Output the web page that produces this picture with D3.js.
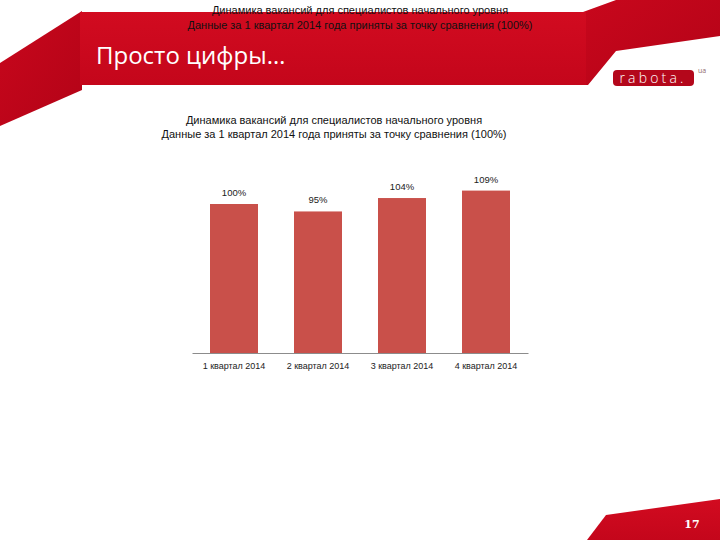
<!DOCTYPE html>
<html>
<head>
<meta charset="utf-8">
<script src="https://cdn.jsdelivr.net/npm/d3@7"></script>
<style>
  html, body { margin: 0; padding: 0; background: #fff; }
  svg { display: block; }
</style>
</head>
<body>
<script>
// ---- data ----
const categories = ["1 квартал 2014", "2 квартал 2014", "3 квартал 2014", "4 квартал 2014"];
const values = [100, 95, 104, 109];
const titleLines = [
  "Динамика вакансий для специалистов начального уровня",
  "Данные за 1 квартал 2014 года приняты за точку сравнения (100%)"
];
const slideTitle = "Просто цифры…";
const pageNumber = "17";

const W = 720, H = 540;
const svg = d3.select("body").append("svg").attr("width", W).attr("height", H);
const defs = svg.append("defs");

const gMain = defs.append("linearGradient").attr("id", "gMain").attr("x1", 0).attr("y1", 0).attr("x2", 0).attr("y2", 1);
gMain.append("stop").attr("offset", "0%").attr("stop-color", "#d20b20");
gMain.append("stop").attr("offset", "100%").attr("stop-color", "#c4061b");
const gRib = defs.append("linearGradient").attr("id", "gRib").attr("x1", 0).attr("y1", 0).attr("x2", 1).attr("y2", 1);
gRib.append("stop").attr("offset", "0%").attr("stop-color", "#c8071c");
gRib.append("stop").attr("offset", "100%").attr("stop-color", "#b30317");

// ---- header decoration ----
const line = d3.line();
const deco = svg.append("g");
deco.append("path").attr("d", line([[0, 63], [82, 11], [82, 90], [0, 126]]) + "Z").attr("fill", "url(#gRib)");
deco.append("path").attr("d", line([[583, 12], [616, 0], [720, 0], [720, 36], [616, 51], [588, 85], [583, 85]]) + "Z").attr("fill", "url(#gRib)");
deco.append("rect").attr("x", 80).attr("y", 12).attr("width", 506).attr("height", 73).attr("fill", "url(#gMain)");

const hdrFont = "'Liberation Sans', Arial, sans-serif";
titleLines.forEach((t, i) => {
  svg.append("text")
    .attr("x", 360).attr("y", 14 + i * 15)
    .attr("text-anchor", "middle")
    .attr("font-family", hdrFont)
    .attr("font-size", 11)
    .attr("fill", "#111")
    .text(t);
});

svg.append("text")
  .attr("x", 96).attr("y", 64)
  .attr("font-family", "'Open Sans', 'DejaVu Sans', sans-serif")
  .attr("font-size", 24)
  .attr("fill", "#fff")
  .text(slideTitle);

// logo
svg.append("rect").attr("x", 613).attr("y", 70).attr("width", 81).attr("height", 16).attr("rx", 4)
  .attr("fill", "#b4071b");
svg.append("text").attr("x", 653).attr("y", 83).attr("text-anchor", "middle")
  .attr("font-family", "'Open Sans', sans-serif").attr("font-weight", 300)
  .attr("font-size", 14).attr("letter-spacing", 3.2).attr("fill", "#fff").text("rabota.");
svg.append("text").attr("x", 698).attr("y", 73)
  .attr("font-family", "'Open Sans', sans-serif").attr("font-size", 7).attr("fill", "#8f6a6d").text("ua");

// bottom-right corner
svg.append("path").attr("d", line([[606, 515], [720, 499], [720, 540], [587, 540]]) + "Z").attr("fill", "url(#gMain)");
svg.append("text").attr("x", 692).attr("y", 528).attr("text-anchor", "middle")
  .attr("font-family", "'DejaVu Serif', serif").attr("font-weight", "bold")
  .attr("font-size", 11).attr("fill", "#fff").text(pageNumber);

// ---- chart ----
const chartFont = "'Liberation Sans', Arial, sans-serif";
titleLines.forEach((t, i) => {
  svg.append("text")
    .attr("x", 334).attr("y", 124 + i * 14)
    .attr("text-anchor", "middle")
    .attr("font-family", chartFont)
    .attr("font-size", 11)
    .attr("fill", "#111")
    .text(t);
});

const x = d3.scaleBand().domain(categories).range([192, 528]).paddingInner(0.4286).paddingOuter(0.2143);
const y = d3.scaleLinear().domain([0, 120]).range([353, 353 - 1.49 * 120]);

svg.append("g").selectAll("rect").data(values).join("rect")
  .attr("x", (d, i) => x(categories[i]))
  .attr("y", d => y(d))
  .attr("width", x.bandwidth())
  .attr("height", d => y(0) - y(d))
  .attr("fill", "#c9504a");

svg.append("g").selectAll("text").data(values).join("text")
  .attr("x", (d, i) => x(categories[i]) + x.bandwidth() / 2)
  .attr("y", d => y(d) - 8)
  .attr("text-anchor", "middle")
  .attr("font-family", chartFont)
  .attr("font-size", 9.5)
  .attr("fill", "#222")
  .text(d => d + "%");

const ax = svg.append("g").attr("transform", `translate(0,${y(0)})`)
  .call(d3.axisBottom(x).tickSize(0).tickPadding(10));
ax.select(".domain").attr("stroke", "#8c8c8c");
ax.selectAll("text").attr("font-family", chartFont).attr("font-size", 9).attr("fill", "#222");
</script>
</body>
</html>
